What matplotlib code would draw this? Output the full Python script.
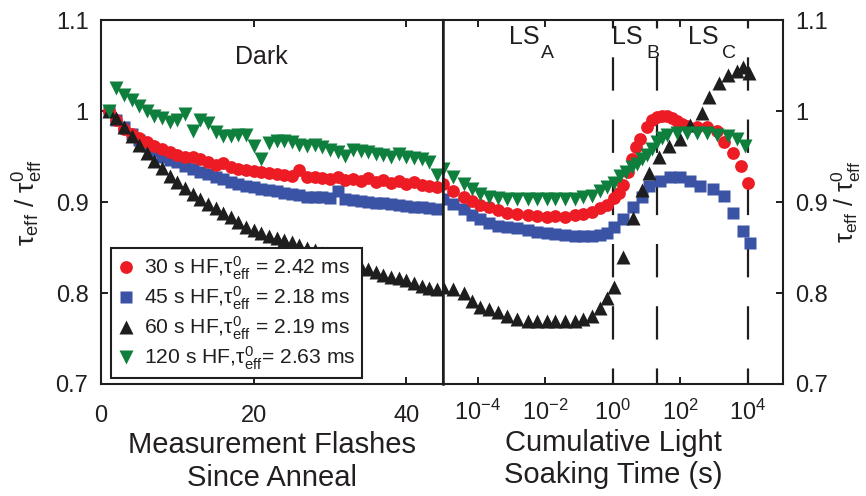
import matplotlib
matplotlib.use("Agg")
import matplotlib.pyplot as plt
import numpy as np

plt.rcParams['font.family'] = ['Liberation Sans', 'DejaVu Sans']
plt.rcParams['mathtext.fontset'] = 'custom'
plt.rcParams['mathtext.rm'] = 'Liberation Sans'
plt.rcParams['mathtext.it'] = 'Liberation Sans'
plt.rcParams['mathtext.default'] = 'regular'

# --- data: left panel (dark, flash number) ---
flashes = list(range(1, 45))
red_dark = [1.000, 0.990, 0.980, 0.975, 0.970, 0.966, 0.962, 0.958, 0.955, 0.952,
            0.949, 0.950, 0.947, 0.944, 0.941, 0.943, 0.938, 0.936, 0.935, 0.934,
            0.933, 0.932, 0.931, 0.930, 0.929, 0.935, 0.928, 0.927, 0.926, 0.925,
            0.928, 0.924, 0.925, 0.923, 0.926, 0.922, 0.924, 0.921, 0.923, 0.920,
            0.922, 0.919, 0.918, 0.916]
blue_dark = [1.000, 0.990, 0.982, 0.975, 0.968, 0.962, 0.956, 0.950, 0.946, 0.944,
             0.940, 0.936, 0.933, 0.931, 0.928, 0.925, 0.922, 0.920, 0.918, 0.916,
             0.914, 0.913, 0.912, 0.910, 0.909, 0.908, 0.906, 0.905, 0.905, 0.904,
             0.912, 0.903, 0.902, 0.901, 0.900, 0.899, 0.899, 0.898, 0.897, 0.896,
             0.895, 0.894, 0.893, 0.892]
black_dark = [1.000, 0.992, 0.982, 0.972, 0.963, 0.954, 0.945, 0.937, 0.929, 0.922,
              0.915, 0.909, 0.903, 0.898, 0.893, 0.888, 0.883, 0.878, 0.873, 0.869,
              0.866, 0.863, 0.860, 0.858, 0.856, 0.853, 0.850, 0.847, 0.844, 0.841,
              0.838, 0.835, 0.832, 0.829, 0.826, 0.823, 0.820, 0.818, 0.816, 0.814,
              0.811, 0.808, 0.806, 0.804]
green_dark = [1.000, 1.025, 1.018, 1.012, 1.006, 1.000, 0.995, 0.992, 0.988, 0.990,
              0.997, 0.978, 0.990, 0.987, 0.977, 0.972, 0.972, 0.974, 0.974, 0.962,
              0.947, 0.965, 0.967, 0.967, 0.966, 0.963, 0.962, 0.963, 0.960, 0.957,
              0.955, 0.951, 0.957, 0.956, 0.955, 0.953, 0.952, 0.950, 0.953, 0.950,
              0.948, 0.947, 0.944, 0.930]

# --- data: right panel (light soaking), log10 of time in s ---
logt_ls = [-5.02, -4.72, -4.42, -4.18, -3.93, -3.68, -3.39, -3.14, -2.84, -2.50,
           -2.25, -1.96, -1.71, -1.41, -1.12, -0.87, -0.62, -0.38, -0.18, 0.02]

red_logt = logt_ls + [0.17, 0.31, 0.45, 0.56, 0.70, 0.81, 1.00, 1.15, 1.30, 1.45,
                      1.60, 1.75, 1.90, 2.05, 2.20, 2.50, 2.80, 3.10, 3.30, 3.57,
                      3.80, 4.00]
red_ls = [0.920, 0.912, 0.905, 0.901, 0.897, 0.894, 0.891, 0.888, 0.887, 0.886,
          0.885, 0.884, 0.885, 0.884, 0.886, 0.887, 0.889, 0.893, 0.897, 0.904,
          0.910, 0.919, 0.933, 0.947, 0.960, 0.969, 0.982, 0.990, 0.993, 0.994,
          0.995, 0.992, 0.989, 0.986, 0.984, 0.982, 0.982, 0.978, 0.966, 0.954,
          0.940, 0.921]

blue_logt = logt_ls + [0.31, 0.61, 0.86, 1.06, 1.40, 1.70, 2.00, 2.29, 2.59, 2.98,
                       3.28, 3.57, 3.87, 4.07]
blue_ls = [0.903, 0.898, 0.892, 0.886, 0.881, 0.877, 0.874, 0.873, 0.871, 0.869,
           0.867, 0.866, 0.865, 0.864, 0.863, 0.863, 0.863, 0.864, 0.866, 0.872,
           0.881, 0.894, 0.905, 0.918, 0.923, 0.927, 0.927, 0.923, 0.918, 0.914,
           0.907, 0.888, 0.868, 0.855]

black_logt = logt_ls + [0.31, 0.61, 0.86, 1.06, 1.36, 1.65, 2.00, 2.30, 2.64, 2.84,
                        3.14, 3.40, 3.67, 3.86, 4.02]
black_ls = [0.807, 0.804, 0.800, 0.791, 0.785, 0.782, 0.779, 0.775, 0.771, 0.769,
            0.769, 0.769, 0.769, 0.769, 0.769, 0.771, 0.775, 0.784, 0.795, 0.807,
            0.840, 0.882, 0.913, 0.932, 0.949, 0.962, 0.969, 0.985, 0.998, 1.015,
            1.031, 1.040, 1.044, 1.048, 1.042]

green_logt = logt_ls + [0.22, 0.40, 0.56, 0.71, 0.86, 1.00, 1.16, 1.30, 1.45, 1.60,
                        1.90, 2.20, 2.50, 2.80, 3.10, 3.40, 3.67, 3.90]
green_ls = [0.936, 0.927, 0.920, 0.914, 0.909, 0.906, 0.904, 0.903, 0.903, 0.903,
            0.903, 0.903, 0.903, 0.903, 0.903, 0.905, 0.907, 0.912, 0.917, 0.921,
            0.929, 0.933, 0.938, 0.942, 0.947, 0.952, 0.958, 0.966, 0.970, 0.974,
            0.976, 0.976, 0.976, 0.976, 0.974, 0.973, 0.969, 0.962]

labels = [r'30 s HF,$\tau^0_{eff}$ = 2.42 ms',
          r'45 s HF,$\tau^0_{eff}$ = 2.18 ms',
          r'60 s HF,$\tau^0_{eff}$ = 2.19 ms',
          r'120 s HF,$\tau^0_{eff}$= 2.63 ms']
stage_bounds = [1, 20, 1e4]  # dashed lines between LS_A / LS_B / LS_C

RED, BLUE, BLACK, GREEN = '#ED1C24', '#3A53A4', '#1E1E1E', '#0E7F3D'
TXT = '#231F20'

fig = plt.figure(figsize=(8.66, 4.96), dpi=100)
axL = fig.add_axes([101 / 866, 1 - 384 / 496, 342 / 866, 364 / 496])
axR = fig.add_axes([443 / 866, 1 - 384 / 496, 340 / 866, 364 / 496])
axR.patch.set_visible(False)

series = [
    ('blue', BLUE, 's', 8.0, blue_dark, blue_logt, blue_ls, 1),
    ('red', RED, 'o', 9.2, red_dark, red_logt, red_ls, 0),
    ('black', BLACK, '^', 10.5, black_dark, black_logt, black_ls, 2),
    ('green', GREEN, 'v', 10.5, green_dark, green_logt, green_ls, 3),
]
handles = [None] * 4
for name, c, m, ms, dark, lt, ls, idx in series:
    h, = axL.plot(flashes, dark, ls='none', marker=m, ms=ms, color=c,
                  mec='none', zorder=3)
    axR.plot(10 ** np.array(lt), ls, ls='none', marker=m, ms=ms, color=c,
             mec='none', zorder=3)
    handles[idx] = h

for xb in stage_bounds:
    axR.axvline(xb, color=BLACK, lw=1.6, ls=(8, (15, 13)), zorder=1)

for ax in (axL, axR):
    ax.set_ylim(0.7, 1.1)
    for sp in ax.spines.values():
        sp.set_linewidth(1.5)
        sp.set_color(BLACK)
        sp.set_zorder(4)
    ax.tick_params(direction='in', length=5, width=1.4, labelsize=17,
                   colors=BLACK, labelcolor=TXT, top=True)
    ax.minorticks_off()

axL.set_xlim(0, 44.8)
axL.set_xticks([0, 20, 40])
axL.set_yticks([0.7, 0.8, 0.9, 1.0, 1.1])
axL.set_yticklabels(['0.7', '0.8', '0.9', '1', '1.1'])
axL.tick_params(axis='x', pad=15)
axL.tick_params(axis='y', pad=9, right=False)

axR.set_xscale('log')
axR.set_xlim(10 ** -5.03, 10 ** 5.04)
axR.set_xticks([1e-4, 1e-2, 1, 1e2, 1e4])
axR.set_xticklabels([r'$10^{-4}$', r'$10^{-2}$', r'$10^{0}$', r'$10^{2}$', r'$10^{4}$'])
axR.minorticks_off()
axR.tick_params(axis='x', pad=11)
axR.set_yticks([0.7, 0.8, 0.9, 1.0, 1.1])
axR.set_yticklabels(['0.7', '0.8', '0.9', '1', '1.1'])
axR.tick_params(axis='y', left=False, right=True, labelleft=False,
                labelright=True, pad=9)
axR.spines['left'].set_linewidth(1.8)

ylab = r'$\tau_{eff}$ / $\tau^0_{eff}$'
axL.set_ylabel(ylab, fontsize=19, color=TXT, labelpad=8)
axR.yaxis.set_label_position('right')
axR.set_ylabel(ylab, fontsize=18, color=TXT, labelpad=1, rotation=90)

axL.set_xlabel('Measurement Flashes\nSince Anneal', fontsize=21, color=TXT,
               labelpad=3, linespacing=1.22)
axR.set_xlabel('Cumulative Light\nSoaking Time (s)', fontsize=21, color=TXT,
               labelpad=3, linespacing=1.22)

axL.text(21.0, 1.0513, 'Dark', fontsize=18, color=TXT, ha='center', va='baseline')
for lx, sx, sub in [(-2.18, -2.12, 'A'), (0.87, 0.99, 'B'), (3.12, 3.24, 'C')]:
    axR.text(10 ** lx, 1.0733, 'LS', fontsize=18, color=TXT, ha='right', va='baseline')
    axR.text(10 ** sx, 1.058, sub, fontsize=14, color=TXT, ha='left', va='baseline')

leg = axL.legend(handles, labels, loc='lower left', bbox_to_anchor=(0.029, 0.016),
                 borderaxespad=0, fontsize=15.2, frameon=True, fancybox=False,
                 edgecolor=BLACK, framealpha=1, handlelength=0.8,
                 handletextpad=0.45, labelspacing=0.12, borderpad=0.3)
leg.get_frame().set_linewidth(1.5)
leg.set_zorder(5)
for t in leg.get_texts():
    t.set_color(TXT)

fig.savefig('out.png', dpi=100)
